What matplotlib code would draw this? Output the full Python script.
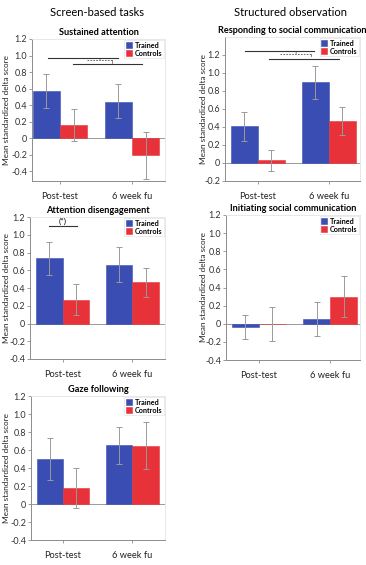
import matplotlib

matplotlib.use("Agg")
import matplotlib.pyplot as plt
import numpy as np

plt.rcParams["font.family"] = ["Lato", "DejaVu Sans"]

# --- data ---
groups = ["Post-test", "6 week fu"]
series = ["Trained", "Controls"]

sustained_mean = [[0.57, 0.44], [0.16, -0.21]]
sustained_lo = [[0.36, 0.24], [-0.03, -0.49]]
sustained_hi = [[0.77, 0.65], [0.35, 0.07]]

responding_mean = [[0.41, 0.90], [0.03, 0.47]]
responding_lo = [[0.25, 0.71], [-0.09, 0.31]]
responding_hi = [[0.57, 1.08], [0.15, 0.62]]

disengage_mean = [[0.74, 0.66], [0.27, 0.47]]
disengage_lo = [[0.55, 0.47], [0.10, 0.30]]
disengage_hi = [[0.92, 0.86], [0.44, 0.63]]

initiating_mean = [[-0.04, 0.05], [0.0, 0.30]]
initiating_lo = [[-0.17, -0.14], [-0.19, 0.07]]
initiating_hi = [[0.10, 0.24], [0.19, 0.53]]

gaze_mean = [[0.50, 0.66], [0.18, 0.65]]
gaze_lo = [[0.27, 0.45], [-0.04, 0.39]]
gaze_hi = [[0.73, 0.86], [0.40, 0.91]]

BLUE = "#3a4db3"
RED = "#e8323a"
GREY = "#9a9a9a"
SPINE = "#8c8c8c"

W, H = 366, 565
fig = plt.figure(figsize=(W / 100, H / 100), dpi=100)
fig.patch.set_facecolor("white")


def make_ax(left, right, top, bottom):
    return fig.add_axes([left / W, 1 - bottom / H, (right - left) / W, (bottom - top) / H])


def draw_panel(ax, title, mean, lo, hi, ylim, yticks, xlim, label_x):
    x = np.arange(len(groups))
    width = 0.38
    for k, (name, col) in enumerate(zip(series, [BLUE, RED])):
        xs = x + (k - 0.5) * width
        m = np.array(mean[k])
        err = [m - np.array(lo[k]), np.array(hi[k]) - m]
        ax.bar(xs, m, width, color=col, edgecolor=col, linewidth=0.4, label=name, zorder=2)
        ax.errorbar(xs, m, yerr=err, fmt="none", ecolor=GREY, elinewidth=0.7,
                    capsize=2.2, capthick=0.7, zorder=3)
    ax.axhline(0, color=GREY, lw=0.7, zorder=1)
    ax.set_xlim(*xlim)
    ax.set_ylim(*ylim)
    ax.set_xticks(x)
    ax.set_xticklabels(groups, fontsize=6.7, color="#222222")
    ax.set_yticks(yticks)
    ax.set_yticklabels(["0" if abs(t) < 1e-9 else f"{t:.1f}" for t in yticks],
                       fontsize=6.5, color="#333333")
    ax.tick_params(length=2, width=0.6, color=SPINE, pad=1.5)
    ax.tick_params(axis="x", pad=6)
    for s in ("left", "bottom"):
        ax.spines[s].set_color(SPINE)
        ax.spines[s].set_linewidth(0.7)
    for s in ("top", "right"):
        ax.spines[s].set_color("#e4e4e4")
        ax.spines[s].set_linewidth(0.6)
    ax.set_title(title, fontsize=6.6, fontweight="bold", pad=3)
    ax.set_ylabel("Mean standardized delta score", fontsize=5.9, color="#222222")
    # put y-label centre at the axes' vertical centre
    pos = ax.get_position()
    ax.yaxis.set_label_coords(label_x / W, pos.y0 + pos.height / 2, transform=fig.transFigure)
    leg = ax.legend(loc="upper right", prop={"weight": "bold", "size": 5.2},
                    handlelength=0.9, handleheight=0.9, handletextpad=0.3,
                    borderpad=0.2, labelspacing=0.1, borderaxespad=0.2,
                    frameon=True, fancybox=False)
    leg.get_frame().set_edgecolor("#dddddd")
    leg.get_frame().set_linewidth(0.5)


def sig_pair(ax, y1, x1, y2, x2, ym, xm):
    ax.plot(x1, [y1, y1], color="#333333", lw=0.8)
    ax.plot(x2, [y2, y2], color="#333333", lw=0.8)
    ax.plot(xm, [ym, ym], color="#555555", lw=0.6, ls=(0, (2, 1.5)))
    ax.plot([xm[1], xm[1]], [ym, ym - 0.03], color="#555555", lw=0.5)
    ax.text(sum(xm) / 2, ym, "*", fontsize=4, ha="center", va="center", color="#333333")


yt_a = [-0.4, -0.2, 0, 0.2, 0.4, 0.6, 0.8, 1.0, 1.2]
yt_b = [-0.2, 0, 0.2, 0.4, 0.6, 0.8, 1.0, 1.2]

ax1 = make_ax(32, 165, 39, 181)
draw_panel(ax1, "Sustained attention", sustained_mean, sustained_lo, sustained_hi,
           (-0.52, 1.2), yt_a, (-0.39, 1.46), 10)
sig_pair(ax1, 0.974, [-0.17, 0.81], 0.898, [0.18, 1.14], 0.945, [0.38, 0.72])

ax2 = make_ax(225, 360, 37, 181)
draw_panel(ax2, "Responding to social communication", responding_mean, responding_lo,
           responding_hi, (-0.2, 1.4), yt_b, (-0.46, 1.44), 207)
sig_pair(ax2, 1.25, [-0.18, 0.79], 1.16, [0.16, 1.15], 1.215, [0.32, 0.75])

ax3 = make_ax(30, 165, 217, 359)
draw_panel(ax3, "Attention disengagement", disengage_mean, disengage_lo, disengage_hi,
           (-0.4, 1.2), yt_a, (-0.47, 1.47), 10)
ax3.plot([-0.2, 0.21], [1.1, 1.1], color="#333333", lw=0.8)
ax3.text(0.0, 1.11, "(*)", fontsize=6, ha="center", va="bottom")

ax4 = make_ax(226, 360, 215, 360)
draw_panel(ax4, "Initiating social communication", initiating_mean, initiating_lo,
           initiating_hi, (-0.4, 1.2), yt_a, (-0.46, 1.42), 207)

ax5 = make_ax(31, 165, 396, 540)
draw_panel(ax5, "Gaze following", gaze_mean, gaze_lo, gaze_hi,
           (-0.4, 1.2), yt_a, (-0.46, 1.47), 10)

fig.text(97 / W, 1 - 13 / H, "Screen-based tasks", fontsize=8, ha="center", va="center")
fig.text(291 / W, 1 - 13 / H, "Structured observation", fontsize=8, ha="center", va="center")

fig.savefig("out.png", dpi=100, facecolor="white")
